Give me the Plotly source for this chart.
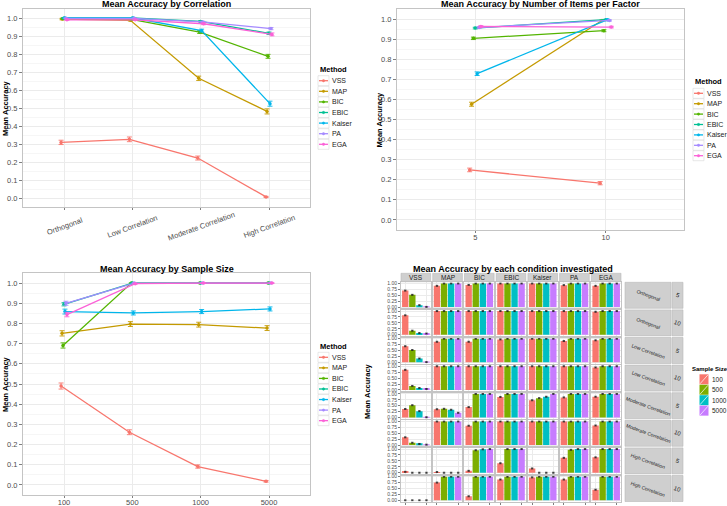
import plotly.graph_objects as go

W, H = 727, 506
FONT = "Liberation Sans, Arial, sans-serif"

METHODS = ["VSS", "MAP", "BIC", "EBIC", "Kaiser", "PA", "EGA"]
METHOD_COLORS = ["#F8766D", "#C49A00", "#53B400", "#00C094", "#00B6EB", "#A58AFF", "#FB61D7"]

# panel 1: accuracy by correlation (rows follow METHODS)
CORR_LEVELS = ["Orthogonal", "Low Correlation", "Moderate Correlation", "High Correlation"]
corr_acc = [
    [0.309, 0.326, 0.222, 0.006],
    [0.994, 0.987, 0.665, 0.481],
    [0.996, 0.992, 0.922, 0.787],
    [1.000, 1.000, 0.981, 0.915],
    [1.000, 1.000, 0.930, 0.524],
    [0.998, 0.998, 0.978, 0.941],
    [0.990, 0.990, 0.968, 0.909],
]
corr_err = [
    [0.012, 0.013, 0.011, 0.003],
    [0.004, 0.004, 0.012, 0.014],
    [0.003, 0.003, 0.008, 0.011],
    [0.002, 0.002, 0.004, 0.007],
    [0.002, 0.002, 0.008, 0.014],
    [0.002, 0.002, 0.004, 0.006],
    [0.003, 0.003, 0.005, 0.008],
]

# panel 2: accuracy by number of items per factor
ITEM_LEVELS = ["5", "10"]
items_acc = [
    [0.249, 0.183],
    [0.576, 0.993],
    [0.904, 0.942],
    [0.955, 0.997],
    [0.728, 0.997],
    [0.958, 0.993],
    [0.963, 0.960],
]
items_err = [
    [0.009, 0.008],
    [0.010, 0.003],
    [0.006, 0.005],
    [0.004, 0.002],
    [0.009, 0.002],
    [0.004, 0.003],
    [0.004, 0.004],
]

# panel 3: accuracy by sample size
SAMPLE_SIZES = ["100", "500", "1000", "5000"]
SAMPLE_COLORS = ["#F8766D", "#7CAE00", "#00BFC4", "#C77CFF"]
size_acc = [
    [0.490, 0.261, 0.091, 0.018],
    [0.751, 0.797, 0.794, 0.777],
    [0.691, 1.000, 1.000, 1.000],
    [0.895, 1.000, 1.000, 1.000],
    [0.859, 0.852, 0.859, 0.872],
    [0.900, 1.000, 1.000, 1.000],
    [0.844, 0.997, 1.000, 1.000],
]
size_err = [
    [0.015, 0.012, 0.008, 0.004],
    [0.013, 0.012, 0.012, 0.012],
    [0.013, 0.001, 0.001, 0.001],
    [0.008, 0.001, 0.001, 0.001],
    [0.012, 0.010, 0.010, 0.010],
    [0.010, 0.002, 0.001, 0.001],
    [0.011, 0.002, 0.001, 0.001],
]

# panel 4: each condition, one list per row of facets, inner lists follow METHODS
FACET_ROWS = [("Orthogonal", "5"), ("Orthogonal", "10"), ("Low Correlation", "5"),
              ("Low Correlation", "10"), ("Moderate Correlation", "5"),
              ("Moderate Correlation", "10"), ("High Correlation", "5"), ("High Correlation", "10")]
ortho_5 = [[0.70, 0.52, 0.08, 0.01], [0.90, 1, 1, 1], [0.94, 1, 1, 1], [1, 1, 1, 1],
           [1, 1, 1, 1], [0.93, 1, 1, 1], [0.90, 1, 1, 1]]
ortho_10 = [[0.82, 0.17, 0.07, 0.05], [1, 1, 1, 1], [1, 1, 1, 1], [1, 1, 1, 1],
            [1, 1, 1, 1], [1, 1, 1, 1], [0.97, 1, 1, 1]]
low_5 = [[0.68, 0.52, 0.16, 0.01], [0.87, 1, 1, 1], [0.87, 1, 1, 1], [0.97, 1, 1, 1],
         [1, 1, 1, 1], [0.90, 1, 1, 1], [0.93, 1, 1, 1]]
low_10 = [[0.85, 0.17, 0.08, 0.04], [1, 1, 1, 1], [1, 1, 1, 1], [1, 1, 1, 1],
          [1, 1, 1, 1], [1, 1, 1, 1], [0.95, 1, 1, 1]]
mod_5 = [[0.36, 0.52, 0.27, 0.01], [0.35, 0.37, 0.33, 0.20], [0.44, 1, 1, 1], [0.87, 1, 1, 1],
         [0.73, 0.82, 0.88, 1.0], [0.85, 1, 1, 1], [0.88, 1, 1, 1]]
mod_10 = [[0.33, 0.10, 0.05, 0.02], [1, 1, 1, 1], [0.82, 1, 1, 1], [1, 1, 1, 1],
          [1, 1, 1, 1], [1, 1, 1, 1], [0.83, 1, 1, 1]]
high_5 = [[0.04, 0, 0, 0], [0.03, 0, 0, 0], [0.08, 0.95, 0.99, 1], [0.40, 1, 1, 1],
          [0.18, 0, 0, 0], [0.63, 0.97, 1, 1], [0.65, 1, 1, 1]]
high_10 = [[0, 0, 0, 0], [0.75, 1, 1, 1], [0.17, 1, 1, 1], [0.88, 1, 1, 1],
           [0.97, 1, 1, 1], [0.88, 1, 1, 1], [0.45, 1, 1, 1]]
facet_acc = [ortho_5, ortho_10, low_5, low_10, mod_5, mod_10, high_5, high_10]
FACET_ERR = 0.02


def px(x):
    return x / W


def py(y):
    return 1 - y / H


def label(x, y, text, size, xanchor="center", angle=0, color="black"):
    return dict(x=px(x), y=py(y), xref="paper", yref="paper", xanchor=xanchor,
                yanchor="middle", text=text, textangle=angle, showarrow=False,
                font=dict(family=FONT, size=size, color=color))


GRID = "#ebebeb"
BORDER = "#c4c4c4"
TICKFONT = dict(family=FONT, size=7.5, color="#4d4d4d")

fig = go.Figure()
layout = {}
annotations = []
shapes = []

# ---- three line panels ----
line_panels = [
    (CORR_LEVELS, corr_acc, corr_err, (23, 310, 9, 207), True, "Mean Accuracy by Correlation"),
    (ITEM_LEVELS, items_acc, items_err, (397, 684, 9, 230), False, "Mean Accuracy by Number of Items per Factor"),
    (SAMPLE_SIZES, size_acc, size_err, (23, 310, 273, 495), False, "Mean Accuracy by Sample Size"),
]
legend_pos = [(318, 70, 80.7, 10.6), (693, 81.7, 93.3, 10.4), (318, 346.7, 357.3, 10.56)]
ylabel_pos = [(5, 108), (379, 119.5), (5, 384)]
DODGE = 0.1

for p, (levels, acc, err, (x0, x1, y0, y1), tilted, title) in enumerate(line_panels):
    ax = "" if p == 0 else str(p + 1)
    for i, (m, c) in enumerate(zip(METHODS, METHOD_COLORS)):
        off = (i - 3) * DODGE / 7
        fig.add_trace(go.Scatter(
            x=[j + off for j in range(len(levels))], y=acc[i],
            mode="lines+markers", name=m, showlegend=False,
            line=dict(color=c, width=1.3), marker=dict(color=c, size=3.5),
            error_y=dict(type="data", array=err[i], color=c, thickness=0.9, width=2.5),
            xaxis="x" + ax, yaxis="y" + ax,
        ))
    layout["xaxis" + ax] = dict(
        domain=[px(x0), px(x1)], anchor="y" + ax, range=[-0.6, len(levels) - 0.4],
        tickvals=list(range(len(levels))), ticktext=levels, showticklabels=not tilted,
        showgrid=True, gridcolor=GRID, zeroline=False, automargin=False,
        showline=True, mirror=True, linecolor=BORDER, linewidth=1,
        ticks="outside", ticklen=2, tickcolor="#7f7f7f", tickfont=TICKFONT,
        ticklabelstandoff=-2,
    )
    if tilted:
        # tilted labels centred under their ticks, as ggplot draws them
        for j, lev in enumerate(levels):
            annotations.append(dict(x=j, y=py(226), xref="x" + ax, yref="paper",
                                    xanchor="center", yanchor="middle", text=lev,
                                    textangle=-20, showarrow=False, font=TICKFONT))
    layout["yaxis" + ax] = dict(
        domain=[py(y1), py(y0)], anchor="x" + ax, range=[-0.05, 1.05],
        dtick=0.1, tick0=0, tickformat=".1f", automargin=False,
        showgrid=True, gridcolor=GRID, zeroline=False,
        minor=dict(dtick=0.05, showgrid=True, gridcolor="#f6f6f6"),
        showline=True, mirror=True, linecolor=BORDER, linewidth=1,
        ticks="outside", ticklen=3, tickcolor="#7f7f7f", tickfont=TICKFONT,
    )
    annotations.append(label((x0 + x1) / 2, y0 - 4.5, "<b>%s</b>" % title, 9))
    lx, ly = ylabel_pos[p]
    annotations.append(label(lx, ly, "<b>Mean Accuracy</b>", 7.5, angle=-90))
    # legend drawn by hand so keys sit as tight as in the source
    gx, gt, gy, step = legend_pos[p]
    annotations.append(label(gx, gt, "<b>Method</b>", 7.5, xanchor="left"))
    for i, (m, c) in enumerate(zip(METHODS, METHOD_COLORS)):
        yy = gy + i * step
        shapes.append(dict(type="rect", xref="paper", yref="paper",
                           x0=px(gx), x1=px(gx + 11), y0=py(yy + 5), y1=py(yy - 5),
                           line=dict(color="#d9d9d9", width=0.6), fillcolor="white"))
        shapes.append(dict(type="line", xref="paper", yref="paper",
                           x0=px(gx + 1), x1=px(gx + 10), y0=py(yy), y1=py(yy),
                           line=dict(color=c, width=1.3)))
        shapes.append(dict(type="circle", xref="paper", yref="paper",
                           x0=px(gx + 4.3), x1=px(gx + 6.7), y0=py(yy + 1.2), y1=py(yy - 1.2),
                           line=dict(color=c, width=0.5), fillcolor=c))
        annotations.append(label(gx + 11.5, yy, m, 7, xanchor="left", color="#1a1a1a"))

# ---- faceted bar panel ----
COL_X0, COL_STEP, COL_W = 401, 31.72, 29.7
ROW_Y0, ROW_STEP, ROW_H = 282.3, 27.6, 26
STRIP = "#cfcfcf"
STRIP_LINE = "#b8b8b8"

n = 4
for r, row_vals in enumerate(facet_acc):
    for c, vals in enumerate(row_vals):
        ax = str(n)
        x0 = COL_X0 + c * COL_STEP
        y0 = ROW_Y0 + r * ROW_STEP
        fig.add_trace(go.Bar(
            x=SAMPLE_SIZES, y=vals, marker=dict(color=SAMPLE_COLORS, line=dict(width=0)),
            width=0.9, showlegend=False,
            error_y=dict(type="data", array=[FACET_ERR] * len(vals), color="#222222",
                         thickness=0.8, width=1.2),
            xaxis="x" + ax, yaxis="y" + ax,
        ))
        last_row = r == len(facet_acc) - 1
        layout["xaxis" + ax] = dict(
            domain=[px(x0), px(x0 + COL_W)], anchor="y" + ax, type="category",
            range=[-0.6, 3.6], showgrid=True, gridcolor=GRID, zeroline=False,
            showline=True, mirror=True, linecolor=BORDER, linewidth=1, automargin=False,
            showticklabels=False, ticks="outside" if last_row else "",
            ticklen=2, tickcolor="#7f7f7f",
        )
        layout["yaxis" + ax] = dict(
            domain=[py(y0 + ROW_H), py(y0)], anchor="x" + ax, range=[-0.05, 1.05],
            tickvals=[0, 0.25, 0.5, 0.75, 1], ticktext=["0.00", "0.25", "0.50", "0.75", "1.00"],
            showgrid=True, gridcolor=GRID, zeroline=False, automargin=False,
            showline=True, mirror=True, linecolor=BORDER, linewidth=1,
            showticklabels=c == 0, ticks="outside" if c == 0 else "",
            ticklen=2, tickcolor="#7f7f7f",
            tickfont=dict(family=FONT, size=5, color="#4d4d4d"),
        )
        n += 1

# column strips
for c, m in enumerate(METHODS):
    x0 = COL_X0 + c * COL_STEP
    shapes.append(dict(type="rect", xref="paper", yref="paper",
                       x0=px(x0), x1=px(x0 + COL_W), y0=py(281.7), y1=py(273.3),
                       line=dict(color=STRIP_LINE, width=0.6), fillcolor=STRIP))
    annotations.append(label(x0 + COL_W / 2, 277.5, m, 6.5, color="#1a1a1a"))

# row strips
for r, (corr, items) in enumerate(FACET_ROWS):
    y0 = ROW_Y0 + r * ROW_STEP
    for sx0, sx1, text, size in [(625, 671, corr, 5), (672, 683, items, 6)]:
        shapes.append(dict(type="rect", xref="paper", yref="paper",
                           x0=px(sx0), x1=px(sx1), y0=py(y0 + ROW_H), y1=py(y0),
                           line=dict(color=STRIP_LINE, width=0.6), fillcolor=STRIP))
        annotations.append(label((sx0 + sx1) / 2, y0 + ROW_H / 2, text, size,
                                 angle=20, color="#1a1a1a"))

annotations.append(label(513, 268.5, "<b>Mean Accuracy by each condition investigated</b>", 9))
annotations.append(label(367, 391, "<b>Mean Accuracy</b>", 7.5, angle=-90))

# sample size legend
annotations.append(label(690, 368.5, "<b>Sample Size</b>", 6, xanchor="left"))
for i, (s, c) in enumerate(zip(SAMPLE_SIZES, SAMPLE_COLORS)):
    yy = 379.3 + i * 10.45
    shapes.append(dict(type="rect", xref="paper", yref="paper",
                       x0=px(699.5), x1=px(708.5), y0=py(yy + 5), y1=py(yy - 5),
                       line=dict(width=0), fillcolor=c))
    shapes.append(dict(type="line", xref="paper", yref="paper",
                       x0=px(700), x1=px(708), y0=py(yy + 4.5), y1=py(yy - 4.5),
                       line=dict(color="white", width=0.7)))
    annotations.append(label(710, yy, s, 6.5, xanchor="left", color="#1a1a1a"))

fig.update_layout(
    template="none",
    width=W, height=H, margin=dict(l=0, r=0, t=0, b=0, autoexpand=False),
    paper_bgcolor="white", plot_bgcolor="white",
    font=dict(family=FONT), showlegend=False,
    annotations=annotations, shapes=shapes, **layout,
)
# the page body keeps the browser's default 8px margin unless cleared
fig.write_html("out.html", config={"displayModeBar": False},
               post_script="document.body.style.margin = '0';")
